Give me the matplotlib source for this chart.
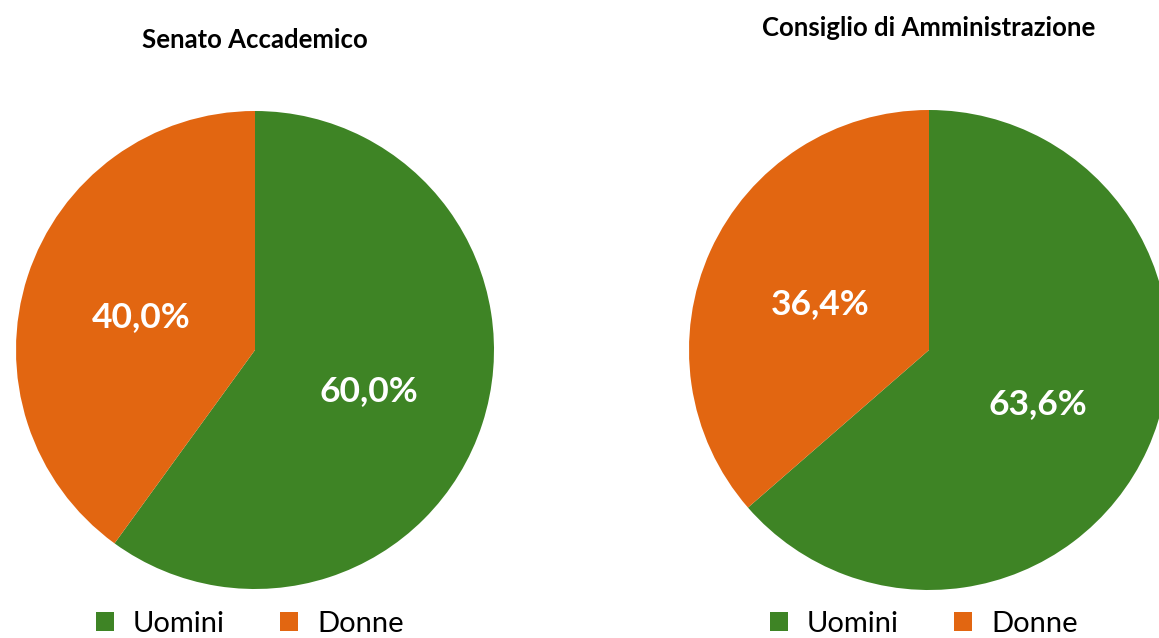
import matplotlib
matplotlib.use('Agg')
import matplotlib.pyplot as plt
from matplotlib.patches import Patch

plt.rcParams['font.family'] = ['Lato', 'DejaVu Sans']

categories = ['Uomini', 'Donne']
senato = [60.0, 40.0]
consiglio = [63.6, 36.4]
titles = ['Senato Accademico', 'Consiglio di Amministrazione']
colors = ['#3E8425', '#E26611']

W, H = 1159, 638
fig = plt.figure(figsize=(W / 100, H / 100), dpi=100)


def px_axes(cx, cy, r):
    # pie axes from pixel centre / radius (y measured from top)
    return fig.add_axes([(cx - r) / W, (H - cy - r) / H, 2 * r / W, 2 * r / H])


def fmt(p):
    return '{:.1f}%'.format(p).replace('.', ',')


panels = [
    (senato, titles[0], 255, 350, 239, 40, 250),
    (consiglio, titles[1], 929, 350, 240, 28, 924),
]

for values, title, cx, cy, r, ty, lx in panels:
    ax = px_axes(cx, cy, r)
    wedges, texts, autotexts = ax.pie(
        values, colors=colors, startangle=90, counterclock=False,
        autopct=fmt, pctdistance=0.5,
        wedgeprops=dict(linewidth=0),
        textprops=dict(color='white', fontsize=25.5, fontweight='bold'))
    # labels sit a few pixels lower in the original
    for t in autotexts:
        x, y = t.get_position()
        t.set_position((x, y - 4.0 / r))
    ax.set_xlim(-1, 1)
    ax.set_ylim(-1, 1)
    ax.set_aspect('equal')
    ax.axis('off')
    fig.text(cx / W, 1 - ty / H, title, ha='center', va='center',
             fontsize=18.5, fontweight='bold')
    handles = [Patch(facecolor=c, edgecolor='none') for c in colors]
    fig.legend(handles, categories, loc='center',
               bbox_to_anchor=(lx / W, 1 - 624 / H), ncol=2, frameon=False,
               fontsize=21, handlelength=0.62, handleheight=0.62,
               handletextpad=0.65, columnspacing=1.9,
               borderaxespad=0, borderpad=0)

fig.savefig('out.png', dpi=100)
